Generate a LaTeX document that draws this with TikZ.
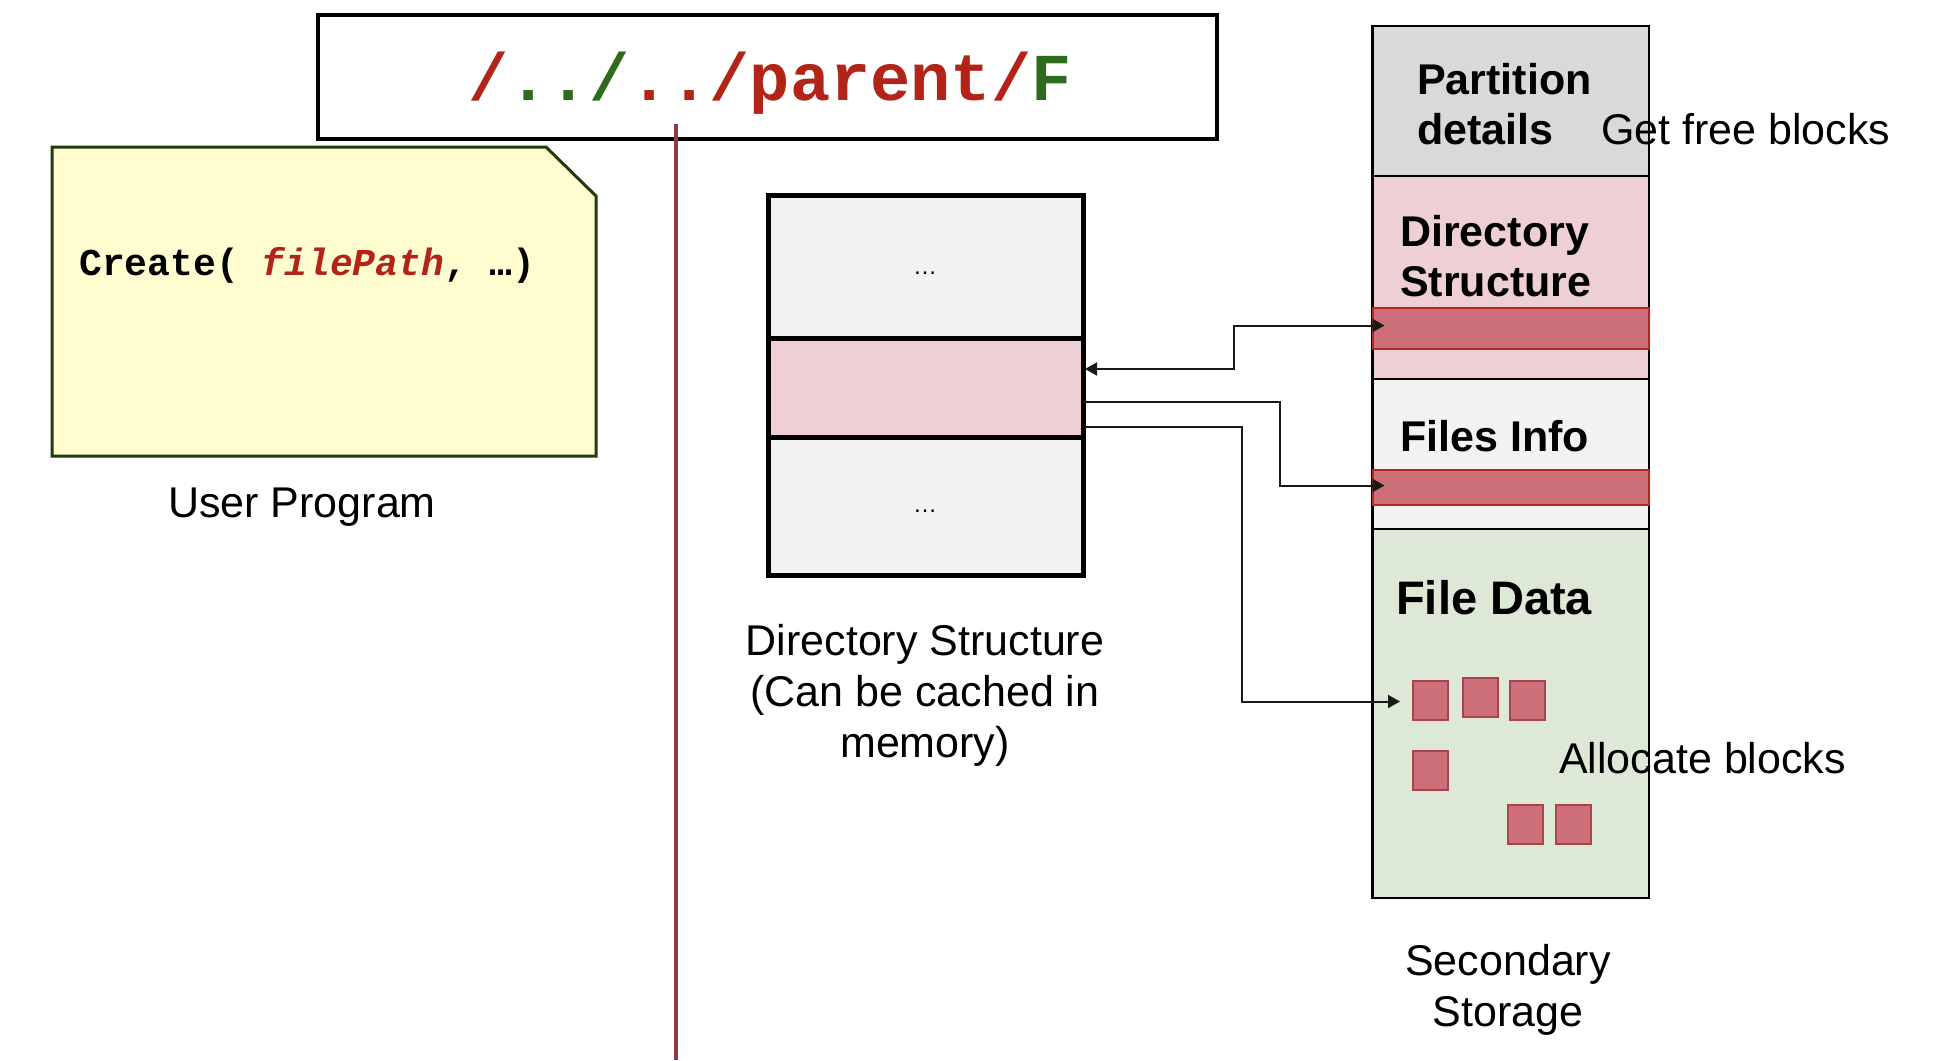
\documentclass[tikz,border=0pt]{standalone}
\usepackage{fontspec}
\setmainfont{Liberation Sans}
\newfontfamily\monofont{Liberation Mono}
\usetikzlibrary{arrows.meta,calc}
\definecolor{pathred}{HTML}{B22418}
\definecolor{pathgreen}{HTML}{2F6B1E}
\definecolor{notefill}{HTML}{FFFDCF}
\definecolor{noteborder}{HTML}{1F3B0F}
\definecolor{cgrey}{HTML}{D9D9D9}
\definecolor{clight}{HTML}{F2F2F2}
\definecolor{cpink}{HTML}{EDCFD4}
\definecolor{cbar}{HTML}{CC6F78}
\definecolor{cbarborder}{HTML}{B3271E}
\definecolor{cgreen}{HTML}{DDE8D6}
\definecolor{cblockborder}{HTML}{A8444E}
\definecolor{vlinecol}{HTML}{8E3B3B}
\tikzset{
  sect/.style={draw=black, line width=2.5pt, inner sep=0pt, outer sep=0pt, anchor=north west},
  dirsect/.style={draw=black, line width=5pt, inner sep=0pt, outer sep=0pt, anchor=north west, minimum width=315pt},
  bar/.style={draw=cbarborder, fill=cbar, line width=2pt, inner sep=0pt, outer sep=0pt, anchor=north west, minimum width=276.5pt},
  blk/.style={draw=cblockborder, fill=cbar, line width=1.5pt, inner sep=0pt, outer sep=0pt, anchor=north west, minimum width=35pt, minimum height=39pt},
  lbl/.style={inner sep=0pt, font=\fontsize{43}{51}\selectfont},
  blbl/.style={inner sep=0pt, font=\fontsize{43}{50}\selectfont\bfseries},
  arr/.style={line width=2pt, draw=black!90, -{Triangle[length=12pt,width=13pt]}},
  arr2/.style={line width=2pt, draw=black!90, {Triangle[length=12pt,width=13pt]}-{Triangle[length=12pt,width=13pt]}},
}
\begin{document}
\begin{tikzpicture}[x=1pt,y=-1pt]
\useasboundingbox (0,0) rectangle (1948,1060);
\fill[white] (0,0) rectangle (1948,1060);

% path box
\node[draw=black, line width=4pt, inner sep=0pt, outer sep=0pt, anchor=north west,
      minimum width=899pt, minimum height=124pt] (pathbox) at (318,15) {};
\node[inner sep=0pt, anchor=base, font=\monofont\bfseries\fontsize{67}{67}\selectfont] (pathtext) at (770,100)
  {\textcolor{pathred}{/}\textcolor{pathgreen}{../}\textcolor{pathred}{../parent/}\textcolor{pathgreen}{F}};

% vertical divider
\draw[vlinecol, line width=4pt] (676,124) -- (676,1060);

% user program note
\draw[noteborder, fill=notefill, line width=3pt] (52,147) -- (546,147) -- (596,196) -- (596,456) -- (52,456) -- cycle;
\node[inner sep=0pt, anchor=base west, font=\monofont\bfseries\fontsize{38}{38}\selectfont] (create) at (79,275)
  {Create(~\textcolor{pathred}{\itshape filePath},~…)};
\node[lbl, anchor=base] (userprog) at (302,517) {User Program};

% directory structure in memory
\node[dirsect, fill=clight, minimum height=143pt] (dtop) at (768,195) {};
\node[dirsect, fill=cpink, minimum height=99pt] (dmid) at (768,338) {};
\node[dirsect, fill=clight, minimum height=138pt] (dbot) at (768,437) {};
\node[inner sep=0pt, anchor=base, font=\fontsize{24}{24}\selectfont] (dots1) at (925,274) {…};
\node[inner sep=0pt, anchor=base, font=\fontsize{24}{24}\selectfont] (dots2) at (925,512) {…};
\node[lbl, anchor=base, align=center] (dircap) at (925,757) {Directory Structure\\(Can be cached in\\memory)};

% secondary storage
\node[sect, fill=cgrey, minimum width=276.5pt, minimum height=150pt] (spart) at (1372.5,26) {};
\node[sect, fill=cpink, minimum width=276.5pt, minimum height=203pt] (sdir) at (1372.5,176) {};
\node[sect, fill=clight, minimum width=276.5pt, minimum height=150pt] (sfiles) at (1372.5,379) {};
\node[sect, fill=cgreen, minimum width=276.5pt, minimum height=369pt] (sdata) at (1372.5,529) {};
\node[bar, minimum height=41pt] (sbar1) at (1372.5,308) {};
\node[bar, minimum height=35pt] (sbar2) at (1372.5,470) {};

\node[blbl, anchor=base west, align=left] (tpart) at (1417,144) {Partition\\details};
\node[blbl, anchor=base west, align=left] (tdir) at (1400,296) {Directory\\Structure};
\node[blbl, anchor=base west] (tfiles) at (1400,451) {Files Info};
\node[inner sep=0pt, anchor=base west, font=\fontsize{47}{47}\selectfont\bfseries] (tdata) at (1396,614) {File Data};
\node[lbl, anchor=base west] (getfree) at (1601,144) {Get free blocks};

% blocks
\node[blk] (b1) at (1413,681) {};
\node[blk] (b2) at (1463,678) {};
\node[blk] (b3) at (1510,681) {};
\node[blk] (b4) at (1413,751) {};
\node[blk] (b5) at (1508,805) {};
\node[blk] (b6) at (1556,805) {};
\node[lbl, anchor=base west] (alloc) at (1559,773) {Allocate blocks};

\node[lbl, anchor=base, align=center] (seccap) at (1508,1026) {Secondary\\Storage};

% connectors
\draw[arr2] ($(dmid.north east)+(2,31)$) -- ++(149,0) |- ($(sbar1.west)+(12,-3)$);
\draw[arr] ($(dmid.north east)+(0,64)$) -- ++(197,0) |- ($(sbar2.west)+(12,-2)$);
\draw[arr] ($(dmid.north east)+(0,89)$) -- ++(159,0) |- ($(b1.west)+(-13,1)$);
\end{tikzpicture}
\end{document}
